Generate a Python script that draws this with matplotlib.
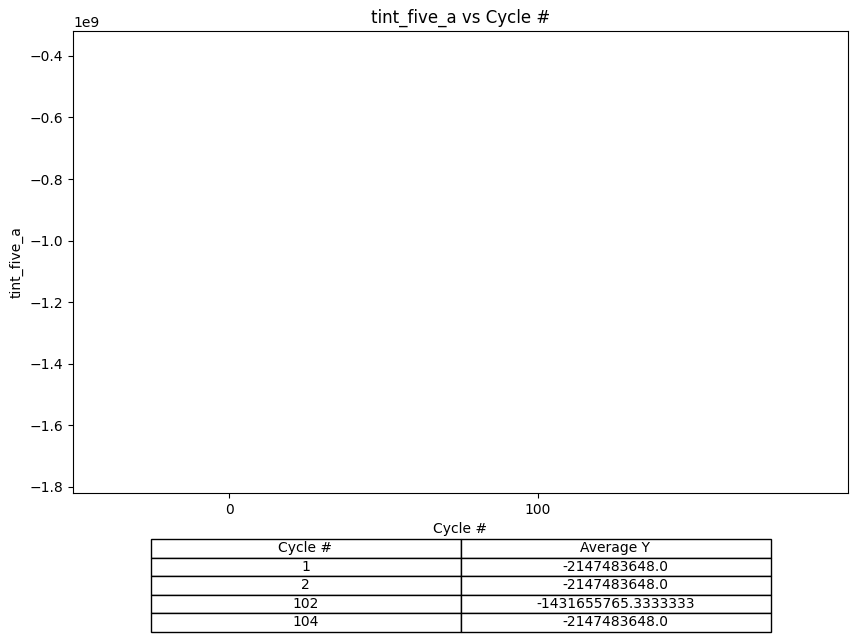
import matplotlib.pyplot as plt

cycles = [1, 2, 102, 104]
avg_y = [-2147483648.0, -2147483648.0, -1431655765.3333333, -2147483648.0]
col_labels = ["Cycle #", "Average Y"]

fig = plt.figure(figsize=(8.58, 6.42), dpi=100)
ax = fig.add_axes([73 / 858, 1 - 493 / 642, 775 / 858, 462 / 642])

# the plot area is empty in the original, only the axis ranges remain
ax.set_xlim(-50.5, 200.3)
ax.set_ylim(-1.82e9, -0.319e9)
ax.set_xticks([0, 100])
ax.set_xlabel("Cycle #")
ax.set_ylabel("tint_five_a")
ax.set_title("tint_five_a vs Cycle #")

cell_text = [[str(c), str(v)] for c, v in zip(cycles, avg_y)]
table = ax.table(cellText=cell_text, colLabels=col_labels, cellLoc="center",
                 loc="bottom", bbox=[0.1, -0.3, 0.8, 0.2])
table.auto_set_font_size(False)
table.set_fontsize(10)

fig.savefig("out.png", dpi=100)
